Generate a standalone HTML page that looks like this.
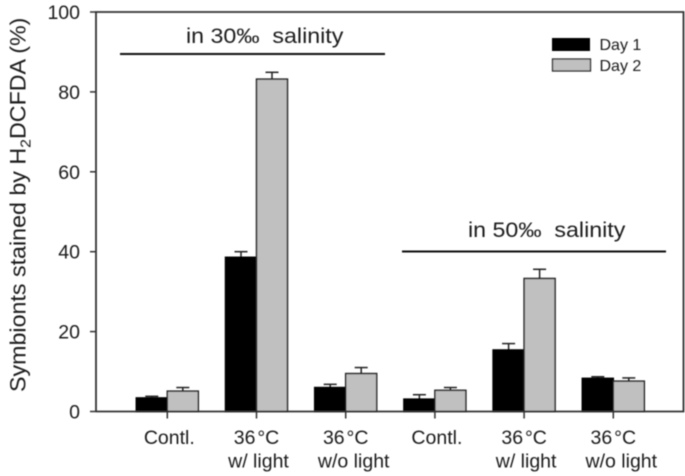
<!DOCTYPE html>
<html>
<head>
<meta charset="utf-8">
<title>Symbionts stained by H2DCFDA</title>
<style>
html,body{margin:0;padding:0;background:#fff;width:685px;height:476px;overflow:hidden}
svg{display:block}
text{font-family:"Liberation Sans",Arial,sans-serif;fill:#1c1c1c}
</style>
</head>
<body>
<svg id="chart" width="685" height="476" viewBox="0 0 685 476" xmlns="http://www.w3.org/2000/svg">
  <defs><filter id="soft" x="-5%" y="-5%" width="110%" height="110%"><feGaussianBlur stdDeviation="0.4"/></filter></defs>
  <rect x="0" y="0" width="685" height="476" fill="#fff"/>
  <g id="root" filter="url(#soft)">
    <g id="bars"></g>
    <g id="axes"></g>
    <line x1="120" y1="54" x2="385" y2="54" stroke="#111" stroke-width="2"/>
    <text transform="translate(186,43) scale(1.08,1)" font-size="21.5" xml:space="preserve">in 30‰  salinity</text>
    <line x1="402" y1="251.5" x2="666" y2="251.5" stroke="#111" stroke-width="2"/>
    <text transform="translate(468,237) scale(1.08,1)" font-size="21.5" xml:space="preserve">in 50‰  salinity</text>
    <g>
      <rect x="552" y="38" width="38" height="13" fill="#000"/>
      <text x="599.5" y="50" font-size="16">Day 1</text>
      <rect x="552.5" y="59" width="38" height="12" fill="#c0c0c0" stroke="#222" stroke-width="1.3"/>
      <text x="599.5" y="71" font-size="16">Day 2</text>
    </g>
    <text transform="translate(25.5,392) rotate(-90) scale(1.057,1)" font-size="22">Symbionts stained by H<tspan font-size="15" dy="5">2</tspan><tspan dy="-5">DCFDA (%)</tspan></text>
  </g>
</svg>
<script>
var categoryTop = ['Contl.', '36 °C', '36 °C', 'Contl.', '36 °C', '36 °C'];
var categoryBottom = ['', 'w/ light', 'w/o light', '', 'w/ light', 'w/o light'];
var day1Values = [3.4, 38.6, 6.0, 3.1, 15.4, 8.3];
var day2Values = [5.1, 83.2, 9.5, 5.3, 33.3, 7.6];
var day1Errors = [0.4, 1.4, 0.8, 1.1, 1.6, 0.4];
var day2Errors = [0.9, 1.7, 1.5, 0.7, 2.3, 0.8];
var yTicks = [0, 20, 40, 60, 80, 100];

var NS = 'http://www.w3.org/2000/svg';
var plotLeft = 96, plotRight = 683.5, plotTop = 12, plotBottom = 411.5;
var barWidth = 31, capHalf = 6.5;

function yScale(v) { return plotBottom - (v / 100) * (plotBottom - plotTop); }
function xBand(i) { return 167.3 + i * 89.2; }

function make(parent, tag, attrs) {
  var el = document.createElementNS(NS, tag);
  for (var k in attrs) el.setAttribute(k, attrs[k]);
  parent.appendChild(el);
  return el;
}

var barsG = document.getElementById('bars');
var axesG = document.getElementById('axes');

function drawSeries(values, errors, side, fill, stroke, label) {
  values.forEach(function (v, i) {
    var x0 = side === 0 ? xBand(i) - barWidth : xBand(i);
    var cx = x0 + barWidth / 2;
    var top = yScale(v);
    var errTop = yScale(v + errors[i]);

    var stem = make(barsG, 'line', { x1: cx, y1: top, x2: cx, y2: errTop, stroke: '#222', 'stroke-width': 1.5 });
    
    

    var cap = make(barsG, 'line', { x1: cx - capHalf, y1: errTop, x2: cx + capHalf, y2: errTop, stroke: '#222', 'stroke-width': 1.5 });
    
    

    var bar = make(barsG, 'rect', { x: x0, y: top, width: barWidth, height: plotBottom - top, fill: fill, stroke: stroke, 'stroke-width': 1.5 });
    
    
  });
}

drawSeries(day1Values, day1Errors, 0, '#000', '#000', 'day-1');
drawSeries(day2Values, day2Errors, 1, '#c0c0c0', '#222', 'day-2');

var frame = make(axesG, 'path', {
  d: 'M' + plotLeft + ' ' + plotBottom + 'V' + plotTop + 'H' + plotRight + 'V' + plotBottom + 'H' + plotLeft,
  fill: 'none', stroke: '#333', 'stroke-width': 1.8
});



yTicks.forEach(function (t) {
  var y = yScale(t);
  var tick = make(axesG, 'line', { x1: plotLeft - 6, y1: y, x2: plotLeft, y2: y, stroke: '#333', 'stroke-width': 1.5 });
  
  

  var lab = make(axesG, 'text', { x: 80, y: y + 7, 'font-size': 19.5, 'text-anchor': 'end' });
  lab.textContent = String(t);
  
  
});

function bottomLabelShift(s) {
  return s === 'w/o light' ? 8 : 2;
}

categoryTop.forEach(function (c, i) {
  var cx = xBand(i);
  var tick = make(axesG, 'line', { x1: cx, y1: plotBottom, x2: cx, y2: plotBottom + 7, stroke: '#333', 'stroke-width': 1.5 });
  
  

  var shiftTop = c === 'Contl.' ? 2 : 0;
  var t1 = make(axesG, 'text', { x: cx + shiftTop, y: 444, 'font-size': 19.5, 'text-anchor': 'middle', 'word-spacing': '-3.5' });
  t1.textContent = c;
  
  

  if (categoryBottom[i]) {
    var t2 = make(axesG, 'text', { x: cx + bottomLabelShift(categoryBottom[i]), y: 467.5, 'font-size': 19.5, 'text-anchor': 'middle' });
    t2.textContent = categoryBottom[i];
    
    
  }
});
</script>
</body>
</html>
